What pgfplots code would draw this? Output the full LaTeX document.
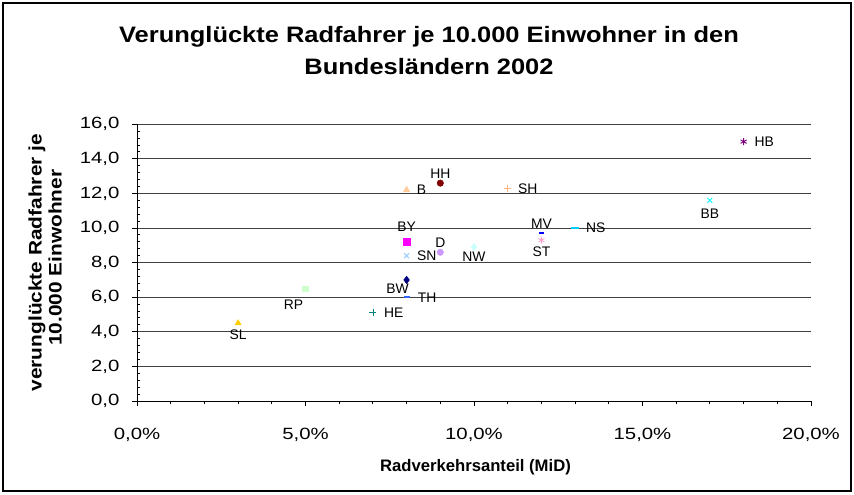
\documentclass[border=0pt]{standalone}
\usepackage{fontspec}
\setmainfont{Liberation Sans}
\newfontfamily\titlefont{Liberation Sans}[FakeStretch=1.14]
\newfontfamily\ylabfont{Liberation Sans}[FakeStretch=1.15]
\newfontfamily\tickfont{Liberation Sans}[FakeStretch=1.25]
\usepackage{pgfplots}
\pgfplotsset{compat=1.18}
\definecolor{cSL}{HTML}{FFCC00}
\definecolor{cRP}{HTML}{CCFFCC}
\definecolor{cHE}{HTML}{008080}
\definecolor{cBW}{HTML}{000080}
\definecolor{cTH}{HTML}{3366FF}
\definecolor{cSN}{HTML}{99CCFF}
\definecolor{cBY}{HTML}{FF00FF}
\definecolor{cD}{HTML}{CC99FF}
\definecolor{cNW}{HTML}{CCFFFF}
\definecolor{cB}{HTML}{FFCC99}
\definecolor{cHH}{HTML}{800000}
\definecolor{cSH}{HTML}{FFB380}
\definecolor{cMV}{HTML}{0000FF}
\definecolor{cST}{HTML}{FF99CC}
\definecolor{cNS}{HTML}{00CCFF}
\definecolor{cBB}{HTML}{00FFFF}
\definecolor{cHB}{HTML}{800080}
% mark options, x, y, label, anchor, xshift, yshift
\newcommand{\pnt}[7]{\addplot[only marks, #1, nodes near coords={#4},
  every node near coord/.append style={anchor=#5, xshift=#6, yshift=#7}] coordinates {(#2,#3)};}
\begin{document}
\begin{tikzpicture}
\path (0pt,0pt) rectangle (640.5pt,-371.25pt);
\draw[black, line width=1.1pt] (2.25pt,-2.25pt) rectangle (638.25pt,-368.25pt);
\node[anchor=base, inner sep=0pt, font=\titlefont\bfseries\fontsize{16.75}{20}\selectfont] at (321.75pt,-32.0pt) {Verunglückte Radfahrer je 10.000 Einwohner in den};
\node[anchor=base, inner sep=0pt, font=\titlefont\bfseries\fontsize{16.75}{20}\selectfont] at (321.75pt,-55.7pt) {Bundesländern 2002};
\node[anchor=base, inner sep=0pt, rotate=90, font=\ylabfont\bfseries\fontsize{13.6}{16}\selectfont] at (31.3pt,-197pt) {verunglückte Radfahrer je};
\node[anchor=base, inner sep=0pt, rotate=90, font=\ylabfont\bfseries\fontsize{13.6}{16}\selectfont] at (46.3pt,-193.3pt) {10.000 Einwohner};
\node[anchor=base, inner sep=0pt, font=\bfseries\fontsize{12.5}{15}\selectfont] at (356.6pt,-353.8pt) {Radverkehrsanteil (MiD)};
\begin{axis}[
  at={(102.75pt,-300.75pt)}, anchor=south west,
  scale only axis, width=505.5pt, height=207.5pt,
  xmin=0, xmax=20, ymin=0, ymax=16,
  clip=false,
  axis lines*=left,
  axis line style={black, line width=0.75pt},
  tick pos=left,
  tick align=outside,
  tick style={black, line width=0.75pt},
  major tick length=4pt, minor tick length=2.6pt,
  xtick={0,5,10,15,20},
  xticklabels={{0,0\%},{5,0\%},{10,0\%},{15,0\%},{20,0\%}},
  minor x tick num=4,
  ytick={0,2,4,6,8,10,12,14,16},
  yticklabels={{0,0},{2,0},{4,0},{6,0},{8,0},{10,0},{12,0},{14,0},{16,0}},
  minor y tick num=4,
  every minor y tick/.append style={xshift=2.6pt},
  ymajorgrids,
  major grid style={draw=black!75, line width=0.75pt},
  xticklabel style={font=\tickfont\fontsize{12.2}{14}\selectfont, anchor=base, inner sep=0pt, yshift=-25pt},
  yticklabel style={font=\tickfont\fontsize{12.2}{14}\selectfont, anchor=east, inner sep=0pt, xshift=-9pt},
  every node near coord/.append style={font=\fontsize{10.4}{12}\selectfont, text=black, inner sep=0pt},
]
\pnt{mark=triangle*, mark size=2.6pt, color=cSL}{3}{4.5}{SL}{north}{0pt}{-5.1pt}
\pnt{mark=square*, mark size=2.1pt, color=cRP}{5}{6.5}{RP}{north}{-9pt}{-8.6pt}
\pnt{mark=+, mark size=2.6pt, color=cHE, line width=0.6pt}{7}{5.1}{HE}{west}{8.2pt}{0pt}
\pnt{mark=diamond*, mark size=2.8pt, color=cBW}{8}{7.0}{BW}{north}{-6.75pt}{-2.5pt}
\pnt{mark=-, mark size=2.2pt, color=cTH, line width=1.4pt}{8}{6.0}{TH}{west}{7.8pt}{0pt}
\pnt{mark=x, mark size=2.6pt, color=cSN, line width=0.7pt}{8}{8.4}{SN}{west}{7.5pt}{0pt}
\pnt{mark=square*, mark size=2.4pt, color=cBY}{8}{9.2}{BY}{base}{0pt}{7.5pt}
\pnt{mark=*, mark size=2.4pt, color=cD}{9}{8.6}{D}{base}{0pt}{3.9pt}
\pnt{mark=diamond*, mark size=2.8pt, color=cNW}{10}{8.9}{NW}{north}{0pt}{-3.5pt}
\pnt{mark=triangle*, mark size=2.8pt, color=cB}{8}{12.2}{B}{west}{7.5pt}{0pt}
\pnt{mark=*, mark size=2.4pt, color=cHH}{9}{12.6}{HH}{base}{0pt}{3.75pt}
\pnt{mark=+, mark size=2.6pt, color=cSH, line width=0.6pt}{11}{12.3}{SH}{west}{7.5pt}{0pt}
\pnt{mark=-, mark size=2pt, color=cMV, line width=1.4pt}{12}{9.7}{MV}{base}{0pt}{3.4pt}
\pnt{mark=asterisk, mark size=2.6pt, color=cST, line width=0.6pt}{12}{9.3}{ST}{north}{0pt}{-4.4pt}
\pnt{mark=-, mark size=2.8pt, color=cNS, line width=1.4pt}{13}{10.0}{NS}{west}{7.5pt}{0pt}
\pnt{mark=x, mark size=2.6pt, color=cBB, line width=0.7pt}{17}{11.6}{BB}{north}{0pt}{-5.8pt}
\pnt{mark=asterisk, mark size=2.6pt, color=cHB, line width=0.7pt}{18}{15.0}{HB}{west}{8pt}{0pt}
\end{axis}
\end{tikzpicture}
\end{document}
